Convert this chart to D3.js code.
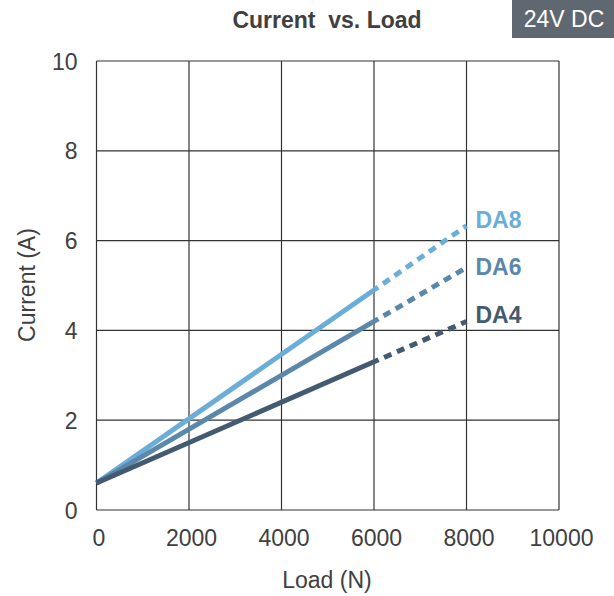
<!DOCTYPE html>
<html><head><meta charset="utf-8">
<script src="https://cdn.jsdelivr.net/npm/d3@7/dist/d3.min.js"></script>
<style>body{margin:0;background:#fff;} svg{display:block;font-family:"Liberation Sans",Arial,sans-serif;}</style>
</head><body>
<svg id="c" width="614" height="596"></svg>
<script>
const loads = [0, 6000, 8000];
const seriesNames = ["DA8", "DA6", "DA4"];
const da8 = [0.6, 4.9, 6.33];
const da6 = [0.6, 4.2, 5.4];
const da4 = [0.6, 3.3, 4.2];
const xTicks = [0, 2000, 4000, 6000, 8000, 10000];
const yTicks = [0, 2, 4, 6, 8, 10];
const colors = {DA8: "#6aaed8", DA6: "#5b87ab", DA4: "#445a70"};
const seriesVals = {DA8: da8, DA6: da6, DA4: da4};
const labelShift = {DA8: -6, DA6: -1, DA4: -6};

const FS = 23;
const svg = d3.select("#c");
const L = 96.5, R = 559, T = 61, B = 510;
const x = d3.scaleLinear().domain([0, 10000]).range([L, R]);
const y = d3.scaleLinear().domain([0, 10]).range([B, T]);

// grid
const g = svg.append("g");
g.selectAll(".vg").data(xTicks).join("line")
  .attr("x1", d => x(d)).attr("x2", d => x(d)).attr("y1", T).attr("y2", B)
  .attr("stroke", "#333").attr("stroke-width", 1.2);
g.selectAll(".hg").data(yTicks).join("line")
  .attr("y1", d => y(d)).attr("y2", d => y(d)).attr("x1", L).attr("x2", R)
  .attr("stroke", "#333").attr("stroke-width", 1.2);

// axes labels via d3 axes
const xAxis = svg.append("g").attr("transform", `translate(2,${B})`)
  .call(d3.axisBottom(x).tickValues(xTicks).tickSize(0).tickPadding(20).tickFormat(d3.format("d")));
const yAxis = svg.append("g").attr("transform", `translate(${L},0)`)
  .call(d3.axisLeft(y).tickValues(yTicks).tickSize(0).tickPadding(19).tickFormat(d3.format("d")));
[xAxis, yAxis].forEach(a => {
  a.select(".domain").remove();
  a.selectAll("text").attr("font-size", FS).attr("fill", "#404040").attr("font-family", '"Liberation Sans",Arial,sans-serif');
});
xAxis.selectAll("text").attr("dy", "0.35em").attr("y", 28);
yAxis.selectAll("text").attr("dy", "0.35em");

// lines
const line = d3.line().x(d => x(d[0])).y(d => y(d[1]));
seriesNames.forEach(name => {
  const vals = seriesVals[name];
  const pts = loads.map((l, i) => [l, vals[i]]);
  svg.append("path").attr("d", line(pts.slice(0, 2)))
    .attr("fill", "none").attr("stroke", colors[name]).attr("stroke-width", 5);
  svg.append("path").attr("d", line(pts.slice(1, 3)))
    .attr("fill", "none").attr("stroke", colors[name]).attr("stroke-width", 5)
    .attr("stroke-dasharray", "8,6").attr("stroke-dashoffset", 3);
  svg.append("text").attr("x", x(8000) + 9).attr("y", y(vals[2]) + labelShift[name])
    .attr("dy", "0.35em").attr("font-size", FS).attr("font-weight", "bold")
    .attr("fill", colors[name]).text(name);
});

// title
svg.append("text").attr("x", 327).attr("y", 28).attr("text-anchor", "middle")
  .attr("font-size", FS).attr("font-weight", "bold").attr("fill", "#404040")
  .attr("xml:space", "preserve").style("white-space", "pre").text("Current  vs. Load");

// axis titles
svg.append("text").attr("x", 327).attr("y", 588).attr("text-anchor", "middle")
  .attr("font-size", FS).attr("fill", "#404040").text("Load (N)");
svg.append("text").attr("transform", "translate(35,285) rotate(-90)").attr("text-anchor", "middle")
  .attr("font-size", FS).attr("fill", "#404040").text("Current (A)");

// badge
svg.append("rect").attr("x", 512).attr("y", 0).attr("width", 102).attr("height", 38).attr("fill", "#5f6870");
svg.append("text").attr("x", 564).attr("y", 27).attr("text-anchor", "middle")
  .attr("font-size", FS).attr("fill", "#fff").text("24V DC");
</script>
</body></html>
